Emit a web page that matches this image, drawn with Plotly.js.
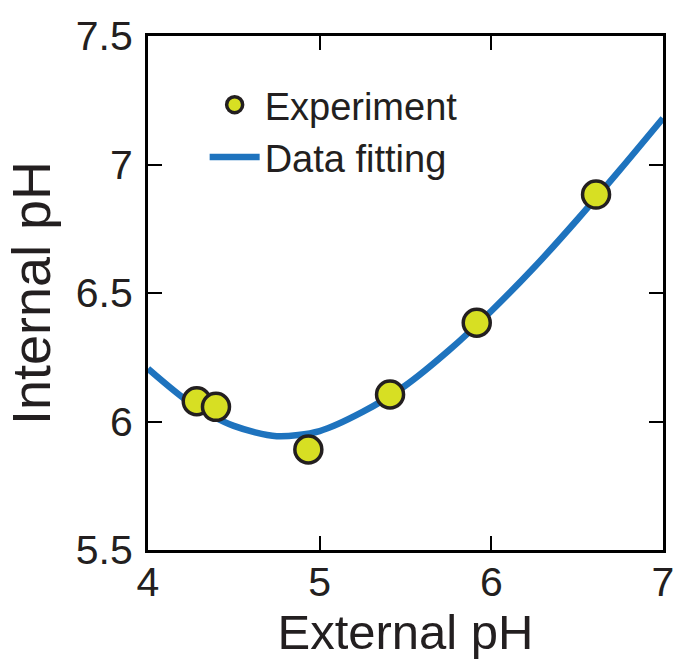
<!DOCTYPE html>
<html>
<head>
<meta charset="utf-8">
<script src="https://cdn.plot.ly/plotly-3.0.1.min.js"></script>
<style>html,body{margin:0;padding:0;background:#fff;}#chart{width:680px;height:664px;}</style>
</head>
<body>
<div id="chart"></div>
<script>
// Experimental data points
const expX = [4.284, 4.396, 4.934, 5.41, 5.915, 6.61];
const expY = [6.079, 6.057, 5.891, 6.105, 6.384, 6.883];

// Fitted curve
const fitX = [4.0, 4.25, 4.5, 4.75, 5.0, 5.25, 5.5, 5.75, 6.0, 6.25, 6.5, 6.75, 7.0];
const fitY = [6.205, 6.07, 5.983, 5.943, 5.963, 6.037, 6.14, 6.275, 6.43, 6.60, 6.785, 6.98, 7.18];

const seriesNames = ['Experiment', 'Data fitting'];
const xTicks = [4, 5, 6, 7];
const yTicks = [5.5, 6, 6.5, 7, 7.5];

const FONT = 'Liberation Sans, Arial, Helvetica, sans-serif';
const INK = '#231f20';

const traces = [
  {
    x: expX, y: expY, name: seriesNames[0], type: 'scatter', mode: 'markers',
    marker: {size: 27, color: '#d7df23', line: {color: INK, width: 3.5}},
    cliponaxis: false
  },
  {
    x: fitX, y: fitY, name: seriesNames[1], type: 'scatter', mode: 'lines',
    line: {color: '#1e73be', width: 6.5, shape: 'spline', smoothing: 0.8}
  }
];
// draw the curve beneath the markers
const ordered = [traces[1], traces[0]];

const axisCommon = {
  showgrid: false, zeroline: false,
  showline: true, linecolor: '#000', linewidth: 3, mirror: 'ticks',
  ticks: 'inside', ticklen: 14, tickwidth: 2, tickcolor: '#000',
  tickfont: {family: FONT, size: 41, color: INK}
};

const layout = {
  width: 680, height: 664,
  margin: {l: 148, r: 17, t: 36, b: 114},
  paper_bgcolor: '#fff', plot_bgcolor: '#fff',
  font: {family: FONT, color: INK},
  showlegend: true,
  legend: {
    x: 0.11, y: 0.927, xanchor: 'left', yanchor: 'top',
    font: {family: FONT, size: 38, color: INK},
    traceorder: 'reversed',
    bgcolor: 'rgba(0,0,0,0)', borderwidth: 0,
    itemwidth: 50, tracegroupgap: 0
  },
  xaxis: Object.assign({}, axisCommon, {
    range: [4, 7], tickvals: xTicks, ticklabelstandoff: -6,
    title: {text: 'External pH', font: {family: FONT, size: 49, color: INK}, standoff: 8}
  }),
  yaxis: Object.assign({}, axisCommon, {
    range: [5.5, 7.5], tickvals: yTicks, ticklabelstandoff: 4,
    title: {text: 'Internal pH', font: {family: FONT, size: 54, color: INK}, standoff: 8}
  })
};

Plotly.newPlot('chart', ordered, layout, {displayModeBar: false, staticPlot: true});
</script>
</body>
</html>
